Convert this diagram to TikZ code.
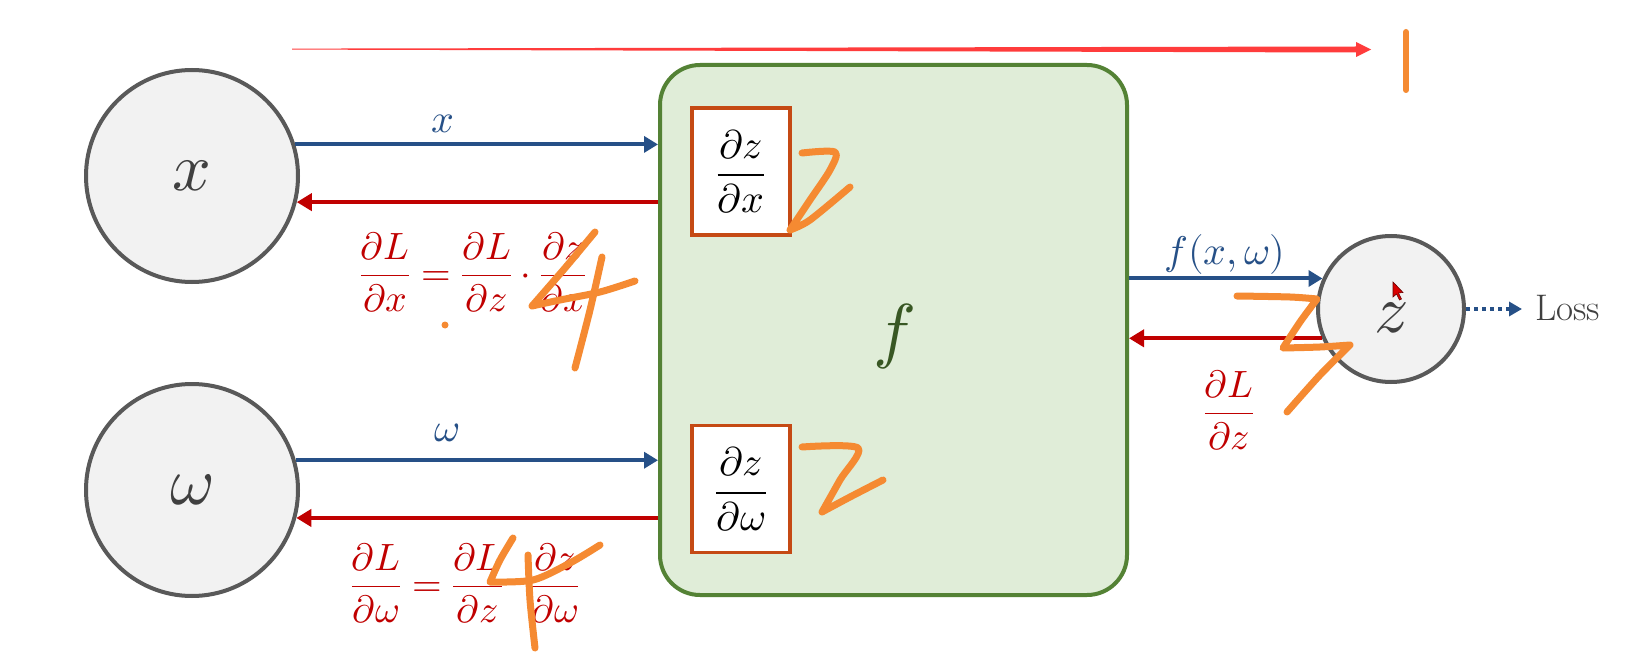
\documentclass[tikz,border=0pt]{standalone}
\usepackage{unicode-math}
\setmathfont{Latin Modern Math}
\usetikzlibrary{arrows.meta}
\definecolor{cgray}{RGB}{89,89,89}
\definecolor{cfill}{RGB}{242,242,242}
\definecolor{cgreen}{RGB}{84,130,53}
\definecolor{cgfill}{RGB}{224,237,216}
\definecolor{cfdark}{RGB}{56,87,35}
\definecolor{cbox}{RGB}{197,74,20}
\definecolor{cblue}{RGB}{38,80,135}
\definecolor{cred}{RGB}{192,0,0}
\definecolor{cbright}{RGB}{255,60,60}
\definecolor{corange}{RGB}{245,138,50}
\definecolor{closs}{RGB}{64,64,64}
\tikzset{
  var/.style={circle, draw=cgray, fill=cfill, line width=4pt, minimum size=212pt, inner sep=0pt, text=closs, font=\fontsize{68}{76}\selectfont},
  fwd/.style={draw=cblue, line width=4pt, -{Triangle[length=14pt,width=16pt]}},
  bwd/.style={draw=cred, line width=4pt, -{Triangle[length=15pt,width=17pt]}},
  lblb/.style={text=cblue, font=\fontsize{40}{44}\selectfont, inner sep=0pt},
  eqr/.style={text=cred, font=\fontsize{38}{44}\selectfont, inner sep=0pt},
  pbox/.style={draw=cbox, fill=white, line width=3.5pt, minimum width=98pt, minimum height=127pt, inner sep=0pt, font=\fontsize{40}{44}\selectfont},
  scribble/.style={draw=corange, line width=7pt, line cap=round, line join=round}
}
\begin{document}
\begin{tikzpicture}[x=1pt,y=-1pt]
\useasboundingbox (0,0) rectangle (1627,655);
\fill[white] (0,0) rectangle (1627,655);

% top red tapered arrow
\fill[cbright] (292,48.6) -- (1356,46.5) -- (1356,42) -- (1371,49.5) -- (1356,57) -- (1356,52.5) -- (292,49.6) -- cycle;

% main box
\node[draw=cgreen, fill=cgfill, line width=4pt, rounded corners=40pt, minimum width=467pt, minimum height=530pt, inner sep=0pt] (fb) at (893.5,330) {};
\node[text=cfdark, font=\fontsize{72}{80}\selectfont, inner sep=0pt] (fl) at (894,336) {$f$};

% partial boxes
\node[pbox] (dzx) at (741,171.5) {$\displaystyle\frac{\partial z}{\partial x}$};
\node[pbox] (dzw) at (741,489) {$\displaystyle\frac{\partial z}{\partial \omega}$};

% variable circles
\node[var] (xn) at (192,176) {$x$};
\node[var] (wn) at (192,490) {$\omega$};
\node[var, minimum size=146pt, text height=46pt, text depth=0pt] (zn) at (1391,309) {$z$};

% arrows x
\draw[fwd] (xn.17.8) -- (xn.17.8 -| fb.west);
\draw[bwd] (xn.-14.5 -| fb.west) -- (xn.-14.5);
% arrows omega
\draw[fwd] (wn.16.1) -- (wn.16.1 -| fb.west);
\draw[bwd] (wn.-15.6 -| fb.west) -- (wn.-15.6);
% arrows z
\draw[fwd] (zn.156.6 -| fb.east) -- (zn.156.6);
\draw[bwd] (zn.203.4) -- (zn.203.4 -| fb.east);

% labels
\node[lblb] (lx) at (443,124) {$x$};
\node[lblb] (lw) at (447,433) {$\omega$};
\node[lblb] (lf) at (1225,254) {$f(x,\omega)$};

\node[eqr] (e1) at (473,272) {$\displaystyle\frac{\partial L}{\partial x}=\frac{\partial L}{\partial z}\cdot\frac{\partial z}{\partial x}$};
\node[eqr] (e2) at (465,583) {$\displaystyle\frac{\partial L}{\partial \omega}=\frac{\partial L}{\partial z}\mathbin{\phantom{\cdot}}\frac{\partial z}{\partial \omega}$};
\node[eqr] (e3) at (1229,410) {$\displaystyle\frac{\partial L}{\partial z}$};

% loss
\node[text=closs, font=\fontsize{37}{42}\selectfont, inner xsep=13pt, inner ysep=0pt, anchor=west] (loss) at (1522,308.5) {Loss};
\draw[draw=cblue, line width=4pt, dash pattern=on 4pt off 4pt, -{Triangle[length=13pt,width=14pt]}] (zn.east) -- (zn.east -| loss.west);

% cursor
\filldraw[fill=red!85!black, draw=red!40!black, line width=0.6pt] (1393,282) -- (1393,297) -- (1396.5,294) -- (1399.5,300) -- (1401.5,299) -- (1398.5,293) -- (1403,292.5) -- cycle;

% handwritten annotations
\draw[scribble, line width=6pt] (1406,32) -- (1406,90);
\draw[scribble] plot[smooth, tension=0.5] coordinates {(802,153) (835,152) (830,170) (810,200) (790,230)} -- plot[smooth, tension=0.5] coordinates {(790,230) (810,220) (850,187)};
\draw[scribble] plot[smooth, tension=0.5] coordinates {(802,447) (858,448) (840,480) (822,512)} -- plot[smooth, tension=0.5] coordinates {(822,512) (850,497) (883,480)};
\draw[scribble] plot[smooth, tension=0.5] coordinates {(595,232) (565,268) (532,306)} -- plot[smooth, tension=0.5] coordinates {(532,306) (560,300) (600,292) (635,281)};
\draw[scribble] plot[smooth, tension=0.5] coordinates {(602,257) (590,310) (575,368)};
\draw[scribble] plot[smooth, tension=0.5] coordinates {(513,538) (500,560) (490,582)} -- plot[smooth, tension=0.5] coordinates {(490,582) (533,580) (570,563) (600,545)};
\draw[scribble] plot[smooth, tension=0.5] coordinates {(528,555) (530,600) (535,648)};
\draw[scribble] plot[smooth, tension=0.5] coordinates {(1237,296) (1290,297) (1317,299)} -- plot[smooth, tension=0.5] coordinates {(1317,299) (1300,322) (1283,348)} -- plot[smooth, tension=0.5] coordinates {(1283,348) (1320,347) (1350,345)} -- plot[smooth, tension=0.5] coordinates {(1350,345) (1320,375) (1287,412)};
\fill[corange] (445,325) circle (3.5pt);
\end{tikzpicture}
\end{document}
